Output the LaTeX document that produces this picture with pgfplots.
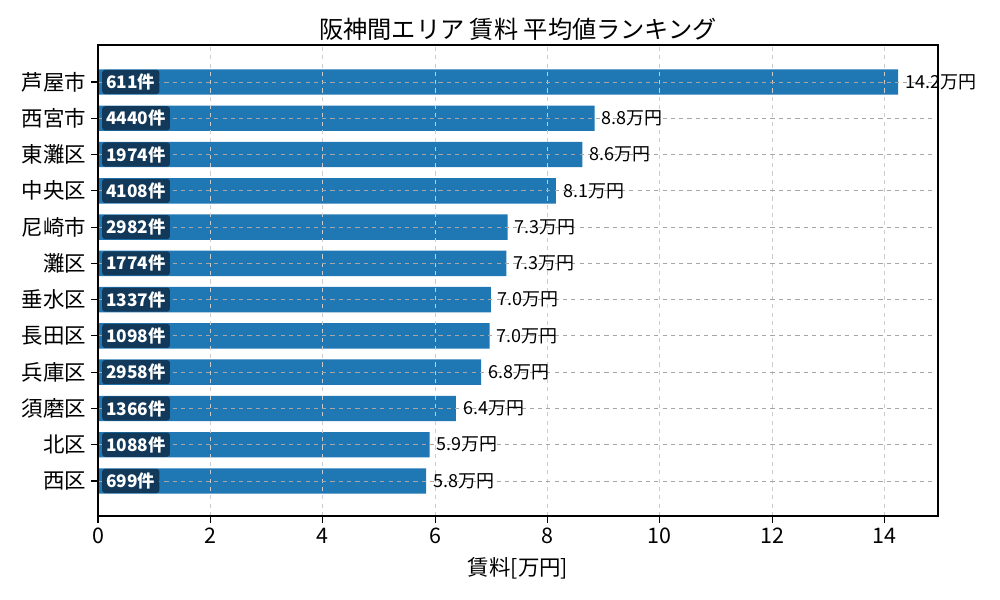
\documentclass[border=0pt]{standalone}
\usepackage{fontspec}
\setmainfont{Noto Sans CJK JP}
\usepackage{pgfplots}
\pgfplotsset{compat=1.18}
\usepackage{pgfplotstable}
\usetikzlibrary{calc}

\definecolor{barblue}{HTML}{1F77B4}
\definecolor{boxnavy}{HTML}{12395A}

% y: 0 = 西区 (bottom) ... 11 = 芦屋市 (top)
\pgfplotstableread[col sep=comma]{
y,rent,lab,cnt
0,5.84,5.8万円,699件
1,5.90,5.9万円,1088件
2,6.37,6.4万円,1366件
3,6.82,6.8万円,2958件
4,6.97,7.0万円,1098件
5,6.99,7.0万円,1337件
6,7.27,7.3万円,1774件
7,7.29,7.3万円,2982件
8,8.15,8.1万円,4108件
9,8.62,8.6万円,1974件
10,8.84,8.8万円,4440件
11,14.24,14.2万円,611件
}\rentdata

\begin{document}
\begin{tikzpicture}
\begin{axis}[
    name=ax,
    scale only axis,
    width=8.4in, height=4.71in,
    xmin=0, xmax=14.95,
    ymin=-0.965, ymax=12.02,
    xtick={0,2,...,14},
    ytick={0,...,11},
    yticklabels={西区,北区,須磨区,兵庫区,長田区,垂水区,灘区,尼崎市,中央区,東灘区,西宮市,芦屋市},
    tick align=outside,
    xtick pos=left, ytick pos=left,
    major tick length=5pt,
    tick style={black, line width=0.8pt},
    axis line style={line width=0.8pt},
    /pgf/number format/assume math mode=true,
    ticklabel style={font=\fontsize{15.5}{18}\selectfont},
    xmajorgrids, ymajorgrids,
    x grid style={dashed, gray!40, line width=0.6pt},
    y grid style={dashed, gray!70, line width=0.6pt},
    axis on top,
    xlabel={賃料[万円]},
    xlabel style={font=\fontsize{15.5}{18}\selectfont, yshift=-3pt},
    title={阪神間エリア 賃料 平均値ランキング},
    title style={font=\fontsize{17.5}{20}\selectfont, yshift=-6pt},
]
\addplot[xbar, bar width=0.7, fill=barblue, draw=none,
    nodes near coords, point meta=explicit symbolic,
    nodes near coords style={anchor=west, xshift=4pt, inner sep=1pt,
        font=\fontsize{13}{15}\selectfont, text=black}]
    table[x=rent, y=y, meta=lab] {\rentdata};
\addplot[only marks, mark=none,
    nodes near coords, point meta=explicit symbolic,
    nodes near coords style={anchor=west, inner xsep=3pt, inner ysep=2.8pt,
        fill=boxnavy, rounded corners=2pt, text=white,
        font=\fontsize{12.5}{14}\selectfont\bfseries}]
    table[x expr=0.07, y=y, meta=cnt] {\rentdata};
\end{axis}
\path ($(ax.south west)+(-0.98in,-0.84in)$) rectangle ($(ax.north east)+(0.62in,0.45in)$);
\end{tikzpicture}
\end{document}
